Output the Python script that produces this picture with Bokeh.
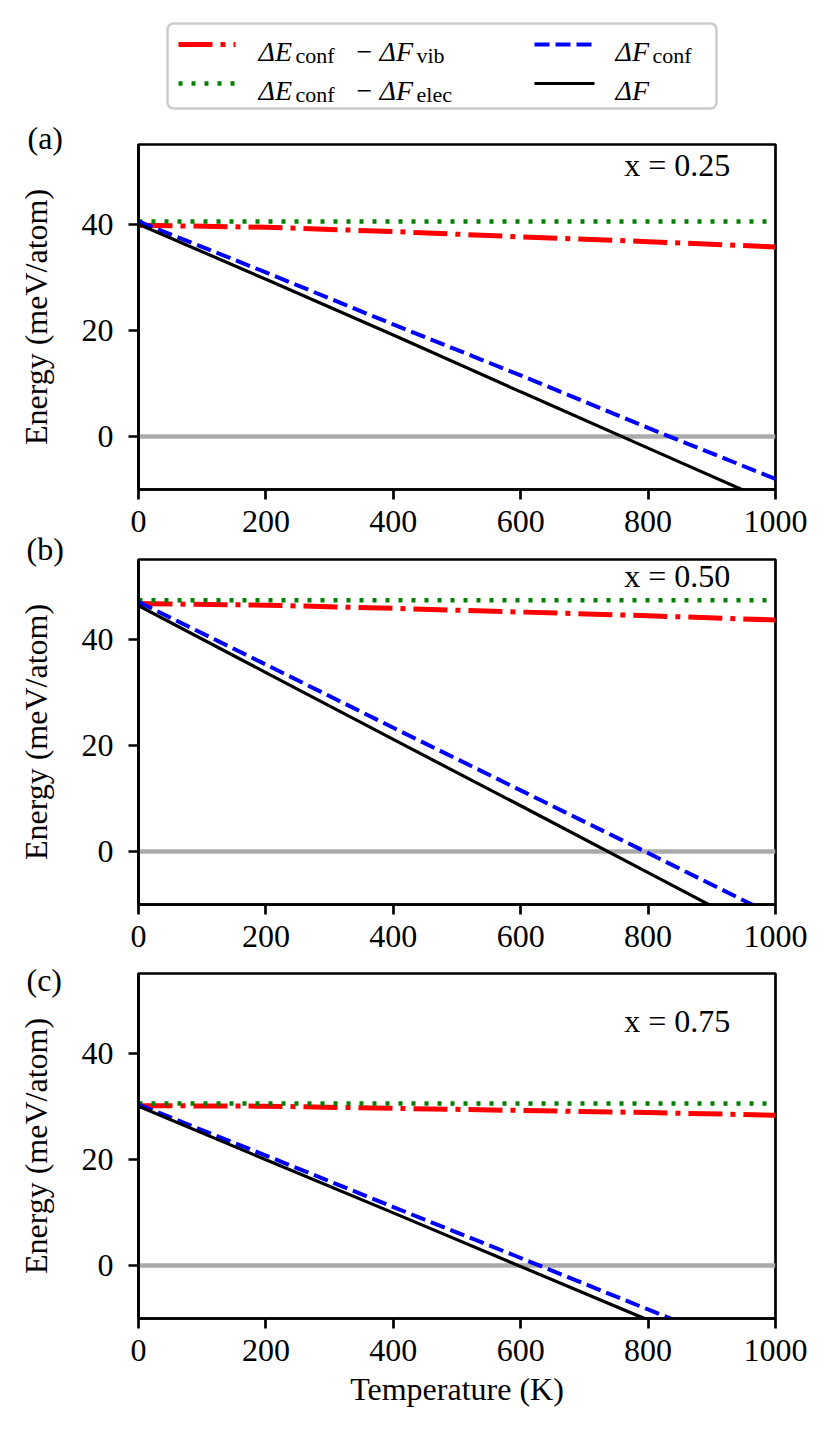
import math
from bokeh.plotting import figure
from bokeh.models import Range1d, FixedTicker, Label
from bokeh.layouts import column, row
from bokeh.embed import file_html
from bokeh.resources import INLINE
from bokeh.core.properties import value

# ---------------- data ----------------
T = [0, 200, 400, 600, 800, 1000]
x_ticks = [0, 200, 400, 600, 800, 1000]
y_ticks = [0, 20, 40]

a_vib = [39.8, 39.4, 38.6, 37.6, 36.7, 35.7]
a_elec = [40.5, 40.5, 40.5, 40.5, 40.5, 40.5]
a_conf = [40.5, 30.9, 21.1, 11.5, 1.6, -8.0]
a_total = [40.0, 29.6, 19.1, 8.4, -2.2, -12.8]

b_vib = [46.7, 46.4, 45.8, 45.1, 44.4, 43.6]
b_elec = [47.3, 47.3, 47.3, 47.3, 47.3, 47.3]
b_conf = [47.0, 35.2, 23.3, 11.5, -0.3, -12.2]
b_total = [46.3, 33.7, 21.1, 8.6, -4.0, -16.6]

c_vib = [30.1, 30.0, 29.6, 29.2, 28.8, 28.3]
c_elec = [30.5, 30.5, 30.5, 30.5, 30.5, 30.5]
c_conf = [30.3, 20.7, 11.0, 1.4, -8.3, -17.9]
c_total = [30.0, 19.9, 9.9, -0.2, -10.3, -20.3]

zero_line = [0, 0, 0, 0, 0, 0]

panel_tags = ["(a)", "(b)", "(c)"]
panel_notes = ["x = 0.25", "x = 0.50", "x = 0.75"]
note_y = [51.1, 51.8, 46.0]
y_title = "Energy (meV/atom)"
x_title = "Temperature (K)"

FONT = "Liberation Serif"
RED, GREEN, BLUE, BLACK, GRAY = "#ff0000", "#008000", "#0000ff", "#000000", "#aaaaaa"

STYLES = {
    "vib": dict(line_color=RED, line_width=5, line_dash="34 8 5 8"),
    "elec": dict(line_color=GREEN, line_width=4.5, line_dash="4 9"),
    "conf": dict(line_color=BLUE, line_width=4, line_dash="15 6"),
    "total": dict(line_color=BLACK, line_width=3.2),
}

# ---------------- layout constants (pixels) ----------------
LEG_H = 115
LEFT_W = 78
FRAME_W, FRAME_H = 637, 345
BORDER_L, BORDER_R = 58, 58
TOPS = [29, 13, 12]
BOTTOMS = [57, 57, 100]


def make_panel(vib, elec, conf, total, note, ny, top, bottom, xlabel):
    p = figure(frame_width=FRAME_W, frame_height=FRAME_H,
               x_range=Range1d(0, 1000), y_range=Range1d(-10, 55),
               output_backend="svg", toolbar_location=None,
               min_border_left=BORDER_L, min_border_right=BORDER_R,
               min_border_top=top, min_border_bottom=bottom)
    p.xgrid.visible = False
    p.ygrid.visible = False
    p.outline_line_color = "black"
    p.outline_line_width = 2.7
    p.outline_line_alpha = 1.0
    p.background_fill_color = "white"
    p.border_fill_color = "white"

    p.xaxis.ticker = FixedTicker(ticks=x_ticks, minor_ticks=[])
    p.yaxis.ticker = FixedTicker(ticks=y_ticks, minor_ticks=[])
    for ax in (p.xaxis[0], p.yaxis[0]):
        ax.axis_line_color = "black"
        ax.axis_line_width = 2.7
        ax.major_tick_line_color = "black"
        ax.major_tick_line_width = 2.7
        ax.major_tick_out = 10
        ax.major_tick_in = 0
        ax.minor_tick_line_color = None
        ax.major_label_text_font = FONT
        ax.major_label_text_font_size = "32px"
        ax.major_label_text_color = "black"
        ax.axis_label_text_font = FONT
        ax.axis_label_text_font_size = "32px"
        ax.axis_label_text_font_style = "normal"
        ax.axis_label_text_color = "black"
    p.yaxis.major_label_standoff = 15
    p.xaxis.major_label_standoff = 11
    if xlabel:
        p.xaxis.axis_label = x_title
        p.xaxis.axis_label_standoff = 7

    p.line(T, zero_line, line_color=GRAY, line_width=4.5)
    p.line(T, vib, **STYLES["vib"])
    p.line(T, elec, **STYLES["elec"])
    p.line(T, conf, **STYLES["conf"])
    p.line(T, total, **STYLES["total"])

    p.add_layout(Label(x=929, y=ny, text=note, text_font=FONT,
                       text_font_size="32px", text_color="black",
                       text_align="right", text_baseline="middle"))
    return p


# ---------------- legend strip (page pixel coordinates) ----------------
MAIN, SUB, SUB_DROP = 28, 22, 4
legend_entries = [
    ("vib", [("ΔE", "it", 0), ("conf", "sub", 37), ("−", "rm", 98), ("ΔF", "it", 121), ("vib", "sub", 158)]),
    ("elec", [("ΔE", "it", 0), ("conf", "sub", 37), ("−", "rm", 98), ("ΔF", "it", 121), ("elec", "sub", 158)]),
    ("conf", [("ΔF", "it", 0), ("conf", "sub", 37)]),
    ("total", [("ΔF", "it", 0)]),
]
# (handle x0, handle x1, text x, handle y, baseline y)
legend_slots = [(178, 235, 258, 44, 51), (178, 235, 258, 83, 90),
                (534, 594, 615, 44, 51), (534, 594, 615, 83, 90)]

leg = figure(width=831, height=LEG_H, x_range=Range1d(0, 831), y_range=Range1d(LEG_H, 0),
             output_backend="svg", toolbar_location=None, frame_align=False,
             x_axis_location=None, y_axis_location=None, min_border=0)
leg.grid.visible = False
leg.outline_line_color = None
leg.quad(left=[167], right=[716], top=[23], bottom=[108], fill_color="white",
         line_color="#cccccc", line_width=2.5, border_radius=6)

groups = {"it": ([], [], []), "rm": ([], [], []), "sub": ([], [], [])}
for (key, segs), (hx0, hx1, tx, hy, by) in zip(legend_entries, legend_slots):
    leg.line([hx0, hx1], [hy, hy], **STYLES[key])
    for txt, st, off in segs:
        gx, gy, gt = groups[st]
        gx.append(tx + off)
        gy.append(by + (SUB_DROP if st == "sub" else 0))
        gt.append(txt)

for st, (gx, gy, gt) in groups.items():
    leg.text(x=gx, y=gy, text=gt, text_font=value(FONT),
             text_font_size=value(f"{SUB if st == 'sub' else MAIN}px"),
             text_font_style=value("italic" if st == "it" else "normal"),
             text_color="black", text_align="left", text_baseline="alphabetic")

# ---------------- panels ----------------
pa = make_panel(a_vib, a_elec, a_conf, a_total, panel_notes[0], note_y[0], TOPS[0], BOTTOMS[0], False)
pb = make_panel(b_vib, b_elec, b_conf, b_total, panel_notes[1], note_y[1], TOPS[1], BOTTOMS[1], False)
pc = make_panel(c_vib, c_elec, c_conf, c_total, panel_notes[2], note_y[2], TOPS[2], BOTTOMS[2], True)

# ---------------- left strip: panel tags and y-axis titles ----------------
heights = [t + FRAME_H + b for t, b in zip(TOPS, BOTTOMS)]
col_h = sum(heights)
starts = [LEG_H, LEG_H + heights[0], LEG_H + heights[0] + heights[1]]
frame_tops = [s + t for s, t in zip(starts, TOPS)]
frame_mid = [ft + FRAME_H / 2 for ft in frame_tops]
tag_off = [-7, -11, 6]   # tag centre relative to frame top

left = figure(width=LEFT_W, height=col_h, x_range=Range1d(0, LEFT_W),
              y_range=Range1d(-(LEG_H + col_h), -LEG_H),
              output_backend="svg", toolbar_location=None, frame_align=False,
              x_axis_location=None, y_axis_location=None, min_border=0)
left.grid.visible = False
left.outline_line_color = None
left.text(x=[27, 26, 26], y=[-(ft + o) for ft, o in zip(frame_tops, tag_off)], text=panel_tags,
          text_font=value(FONT), text_font_size=value("32px"), text_color="black",
          text_align="left", text_baseline="middle")
left.text(x=[35, 35, 35], y=[-m for m in frame_mid], text=[y_title] * 3, angle=math.pi / 2,
          text_font=value(FONT), text_font_size=value("32px"), text_color="black",
          text_align="center", text_baseline="alphabetic")

layout = column(leg, row(left, column(pa, pb, pc, spacing=0), spacing=0), spacing=0)
open("out.html", "w").write(file_html(layout, INLINE))
